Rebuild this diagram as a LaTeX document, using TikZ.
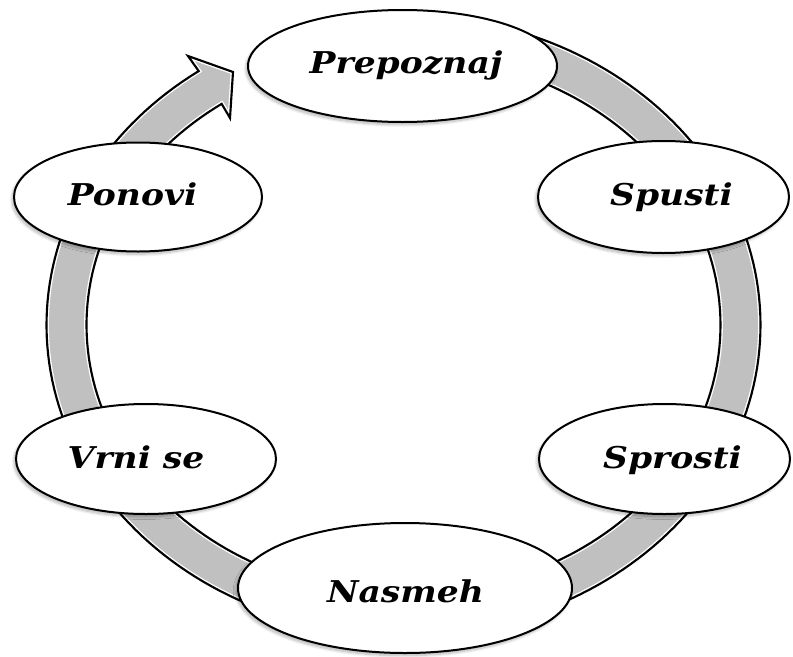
\documentclass[tikz,border=0pt]{standalone}
\usepackage{fontspec}
\setmainfont{DejaVu Serif}
\newfontfamily\lblfont[FakeStretch=1.15]{DejaVu Serif}
\usetikzlibrary{shapes.geometric,shadows.blur}
\definecolor{ringgray}{RGB}{192,192,192}
\begin{document}
\begin{tikzpicture}[x=0.75pt,y=-0.75pt,
  ell/.style={ellipse, draw=black, line width=1.5pt, fill=white, inner sep=0pt,
    blur shadow={shadow xshift=-1.5pt, shadow yshift=-2pt, shadow opacity=30, shadow blur steps=8}},
  lbl/.style={anchor=base, font=\lblfont\fontsize{22.5}{27}\selectfont\bfseries\itshape, inner sep=0pt}]
\useasboundingbox (0,0) rectangle (793,657);
% ring with arrow
\def\ringpath{plot[domain=90:-235,samples=200] ({403.5+357*cos(\x)},{325-310*sin(\x)}) -- (188,56) -- (233,72) -- (230,118) -- plot[domain=-235:90,samples=200] ({403.5+317*cos(\x)},{325-270*sin(\x)}) -- cycle}
\fill[ringgray] \ringpath;
\begin{scope}
  \clip \ringpath;
  \draw[white, line width=3.6pt] \ringpath;
\end{scope}
\draw[black, line width=1.6pt] \ringpath;
% ellipses
\node[ell, minimum width={309*0.75pt}, minimum height={112*0.75pt}] (e1) at (402.5,66) {};
\node[ell, minimum width={251*0.75pt}, minimum height={112*0.75pt}] (e2) at (663.5,197) {};
\node[ell, minimum width={251*0.75pt}, minimum height={110*0.75pt}] (e3) at (664.5,459) {};
\node[ell, minimum width={334*0.75pt}, minimum height={130*0.75pt}] (e4) at (405,588) {};
\node[ell, minimum width={260*0.75pt}, minimum height={110*0.75pt}] (e5) at (146,459) {};
\node[ell, minimum width={248*0.75pt}, minimum height={109*0.75pt}] (e6) at (138,197) {};
% labels
\node[lbl] (t1) at (406,73) {Prepoznaj};
\node[lbl] (t2) at (671.5,205) {Spusti};
\node[lbl] (t3) at (672.5,468) {Sprosti};
\node[lbl] (t4) at (405.5,602) {Nasmeh};
\node[lbl] (t5) at (136,468) {Vrni se};
\node[lbl] (t6) at (132.5,205) {Ponovi};
\end{tikzpicture}
\end{document}
